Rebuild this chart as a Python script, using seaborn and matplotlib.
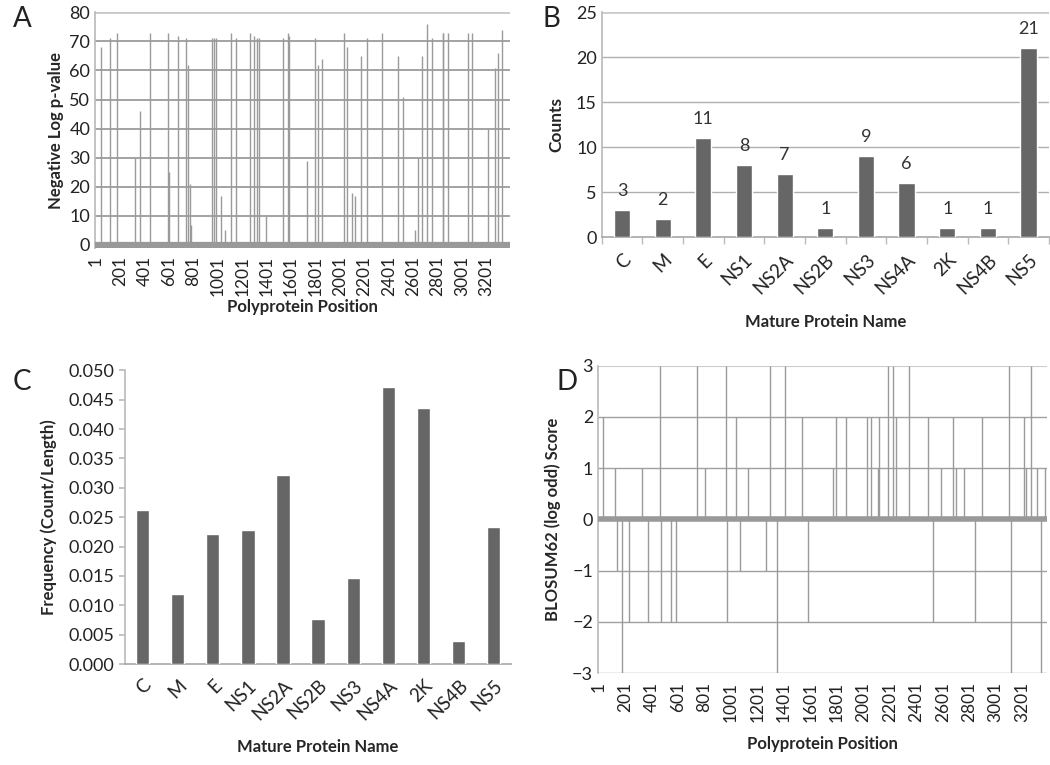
import matplotlib
matplotlib.use("Agg")
import matplotlib.pyplot as plt
import seaborn as sns

# mature protein summary (panels B and C)
proteins = ['C', 'M', 'E', 'NS1', 'NS2A', 'NS2B', 'NS3', 'NS4A', '2K', 'NS4B', 'NS5']
counts = [3, 2, 11, 8, 7, 1, 9, 6, 1, 1, 21]
frequency = [0.0262, 0.0120, 0.0222, 0.0228, 0.0322, 0.0077,
             0.0147, 0.0472, 0.0435, 0.0040, 0.0233]

# panel A: significant positions and -log p
a_positions = [47, 121, 174, 324, 365, 446, 595, 600, 671, 739, 758, 772, 782,
               953, 970, 986, 1027, 1059, 1111, 1151, 1268, 1295, 1322, 1342,
               1393, 1531, 1572, 1586, 1735, 1794, 1822, 1857, 2034, 2055,
               2101, 2128, 2174, 2223, 2345, 2473, 2516, 2616, 2644, 2671,
               2712, 2752, 2842, 2843, 2888, 3051, 3086, 3214, 3268, 3295, 3330]
a_scores = [68, 71, 73, 30, 46, 73, 73, 25, 72, 71, 62, 21, 7,
            71, 71, 71, 17, 5, 73, 71, 73, 72, 71, 71,
            10, 71, 73, 72, 29, 71, 62, 64, 73, 68,
            18, 17, 65, 71, 73, 65, 51, 5, 30, 65,
            76, 71, 73, 73, 73, 73, 73, 40, 61, 66, 74]

# panel D: BLOSUM62 score at substituted positions
d_positions = [33, 122, 137, 180, 227, 331, 373, 461, 469, 550, 587, 743, 801,
               960, 967, 1035, 1065, 1128, 1267, 1292, 1350, 1410, 1535, 1586,
               1769, 1795, 1870, 2031, 2059, 2109, 2117, 2184, 2222, 2248,
               2348, 2486, 2529, 2587, 2675, 2700, 2763, 2846, 2901, 3103,
               3116, 3216, 3233, 3266, 3316, 3342, 3374]
d_scores = [2, 1, -1, -3, -2, 1, -2, 3, -2, -2, -2, 3, 1,
            3, -2, 2, -1, 1, -1, 3, -3, 3, 2, -2,
            1, 2, 2, 2, 2, 1, 2, 3, 3, 2,
            3, 2, -2, 1, 2, 1, 1, -2, 2, 3,
            -3, 2, 1, 3, 1, -3, 1]

position_ticks = [1, 201, 401, 601, 801, 1001, 1201, 1401, 1601, 1801,
                  2001, 2201, 2401, 2601, 2801, 3001, 3201]

sns.set_theme(style="white")
plt.rcParams['font.family'] = ['Lato', 'DejaVu Sans']
plt.rcParams['text.color'] = '#222222'
plt.rcParams['xtick.color'] = '#222222'
plt.rcParams['ytick.color'] = '#222222'

bar_color = '#666666'
spike_color = '#9a9a9a'

fig = plt.figure(figsize=(10.5, 7.65), dpi=100)
axA = fig.add_axes([0.0905, 0.676, 0.395, 0.308])
axB = fig.add_axes([0.573, 0.690, 0.426, 0.294])
axC = fig.add_axes([0.119, 0.132, 0.368, 0.384])
axD = fig.add_axes([0.5695, 0.120, 0.428, 0.402])


def style_position_axis(ax, pad):
    ax.set_xlim(-5, 3392)
    ax.set_xticks(position_ticks)
    ax.set_xticklabels([str(t) for t in position_ticks], rotation=90, fontsize=12.5)
    ax.set_xlabel('Polyprotein Position', fontsize=12, fontweight='bold', labelpad=pad)
    for s in ['top', 'right', 'bottom']:
        ax.spines[s].set_visible(False)
    ax.spines['left'].set_color('#bbbbbb')
    ax.tick_params(axis='x', length=0, pad=6)
    ax.tick_params(axis='y', length=0, labelsize=13)


# --- A ---
axA.vlines(a_positions, 0, a_scores, color=spike_color, lw=1.0, zorder=3)
axA.axhline(0, color='#999999', lw=4.5, zorder=4)
axA.set_ylim(-1, 80)
axA.set_yticks(range(0, 81, 10))
for y in range(10, 71, 10):
    axA.axhline(y, color='#8a8a8a', lw=1.1, zorder=2)
axA.axhline(80, color='#c8c8c8', lw=2, zorder=2)
style_position_axis(axA, 2)
axA.set_ylabel('Negative Log p-value', fontsize=12, fontweight='bold', labelpad=4)

# --- B ---
sns.barplot(x=proteins, y=counts, color=bar_color, saturation=1, width=0.4, ax=axB, zorder=3)
axB.bar_label(axB.containers[0], fontsize=13, padding=8, color='#333333')
axB.set_ylim(0, 25)
axB.set_yticks(range(0, 26, 5))
for y in range(5, 21, 5):
    axB.axhline(y, color='#b0b0b0', lw=1, zorder=1)
axB.axhline(25, color='#cccccc', lw=2, zorder=1)
axB.set_xlim(-0.5, len(proteins) - 0.5)
axB.set_xticks(range(len(proteins)))
axB.set_xticklabels(proteins, rotation=45, ha='right', rotation_mode='anchor', fontsize=13.5)
axB.set_xticks([i + 0.5 for i in range(-1, len(proteins))], minor=True)
axB.tick_params(axis='x', which='minor', length=5, color='#bbbbbb', bottom=True)
axB.tick_params(axis='x', which='major', length=0, pad=10)
axB.tick_params(axis='y', length=0, labelsize=13)
for s in ['top', 'right']:
    axB.spines[s].set_visible(False)
axB.spines['left'].set_color('#bbbbbb')
axB.spines['bottom'].set_color('#aaaaaa')
axB.set_xlabel('Mature Protein Name', fontsize=12, fontweight='bold', labelpad=12)
axB.set_ylabel('Counts', fontsize=12.5, fontweight='bold', labelpad=8)

# --- C ---
sns.barplot(x=proteins, y=frequency, color=bar_color, saturation=1, width=0.38, ax=axC, zorder=3)
axC.set_ylim(0, 0.05)
axC.set_yticks([i * 0.005 for i in range(11)])
axC.yaxis.set_major_formatter(matplotlib.ticker.FormatStrFormatter('%.3f'))
axC.set_xlim(-0.5, len(proteins) - 0.5)
axC.set_xticks(range(len(proteins)))
axC.set_xticklabels(proteins, rotation=45, ha='right', rotation_mode='anchor', fontsize=13.5)
axC.tick_params(axis='x', length=0, pad=9)
axC.tick_params(axis='y', length=4, color='#bbbbbb', left=True, labelsize=13)
for s in ['top', 'right']:
    axC.spines[s].set_visible(False)
axC.spines['left'].set_color('#bbbbbb')
axC.spines['bottom'].set_color('#aaaaaa')
axC.set_xlabel('Mature Protein Name', fontsize=12, fontweight='bold', labelpad=12)
axC.set_ylabel('Frequency (Count/Length)', fontsize=12, fontweight='bold', labelpad=8)

# --- D ---
axD.vlines(d_positions, 0, d_scores, color=spike_color, lw=1.0, zorder=3)
axD.axhline(0, color='#999999', lw=4, zorder=4)
axD.set_ylim(-3, 3)
axD.set_yticks(range(-3, 4))
for y in [-3, -2, -1, 1, 2]:
    axD.axhline(y, color='#a0a0a0', lw=1, zorder=2)
axD.axhline(3, color='#cccccc', lw=1.5, zorder=2)
style_position_axis(axD, 10)
axD.set_ylabel('BLOSUM62 (log odd) Score', fontsize=12, fontweight='bold', labelpad=8)

# panel letters
for label, (x, y) in zip('ABCD', [(0.012, 0.965), (0.517, 0.965), (0.012, 0.49), (0.53, 0.49)]):
    fig.text(x, y, label, fontsize=20, color='#222222')

fig.savefig('out.png', dpi=100)
